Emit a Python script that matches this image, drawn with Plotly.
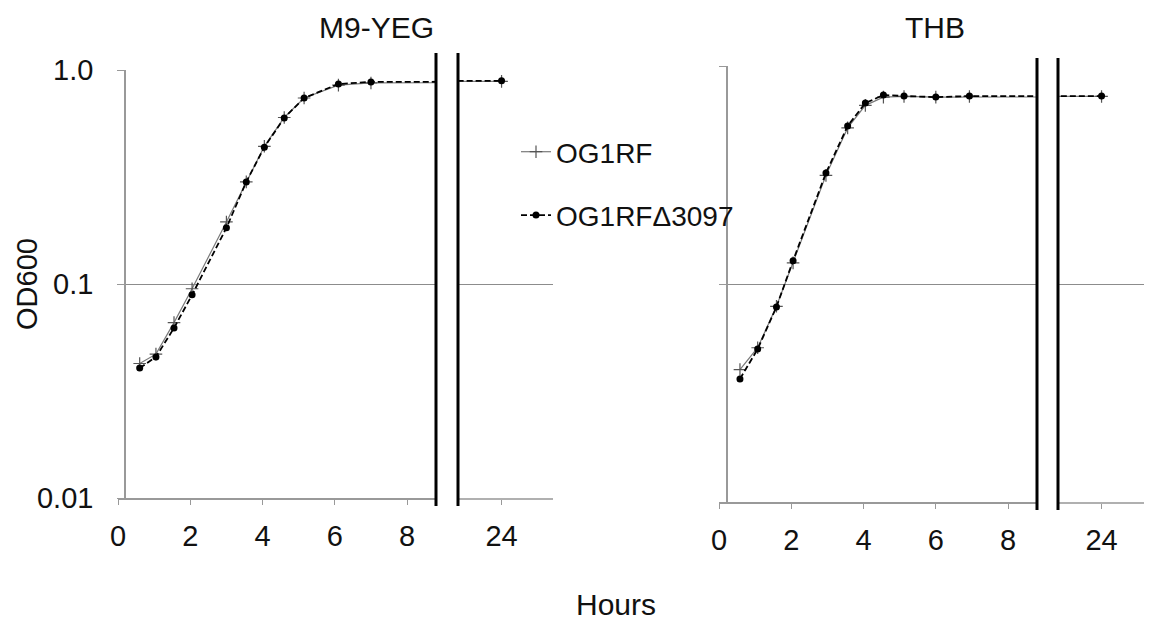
import plotly.graph_objects as go

# ---------------- data ----------------
m9_hours = [0.6, 1.05, 1.55, 2.05, 3.0, 3.55, 4.05, 4.6, 5.15, 6.1, 7.0, 24]
m9_wt = [0.0425, 0.047, 0.066, 0.095, 0.195, 0.30, 0.44, 0.60, 0.74, 0.85, 0.87, 0.885]
m9_mut = [0.0405, 0.0456, 0.0623, 0.089, 0.183, 0.30, 0.436, 0.597, 0.74, 0.86, 0.88, 0.89]

thb_hours = [0.58, 1.07, 1.59, 2.05, 2.96, 3.56, 4.05, 4.55, 5.12, 6.0, 6.93, 24]
thb_wt = [0.0405, 0.051, 0.079, 0.125, 0.315, 0.52, 0.66, 0.72, 0.725, 0.72, 0.725, 0.725]
thb_mut = [0.0367, 0.0503, 0.0785, 0.128, 0.323, 0.531, 0.676, 0.736, 0.728, 0.72, 0.728, 0.728]

series_names = ["OG1RF", "OG1RF\u03943097"]
panel_titles = ["M9-YEG", "THB"]
y_tickvals = [0.01, 0.1, 1.0]
y_ticktext = ["0.01", "0.1", "1.0"]
x_tickvals = [0, 2, 4, 6, 8]
x_break_tickvals = [24]

# page body has an 8px margin, so the figure is sized to the visible area
OFF = 8
W, H = 1152 - OFF, 626 - OFF
FONT = "Liberation Sans, Arial, sans-serif"
GRID = "#8c8c8c"
AXIS = "#999999"

def px(x):
    return (x - OFF) / W

def py(y):
    return 1 - (y - OFF) / H

fig = go.Figure()

panels = [
    dict(h=m9_hours, wt=m9_wt, mut=m9_mut, main=(118, 436), brk=(458, 553),
         yd=(70, 498), yax=125, labels=True),
    dict(h=thb_hours, wt=thb_wt, mut=thb_mut, main=(719, 1037), brk=(1058, 1152),
         yd=(66, 502), yax=727, labels=False),
]

layout = {}
for i, p in enumerate(panels):
    xm = 2 * i + 1
    xb = 2 * i + 2
    ym = 2 * i + 1
    yb = 2 * i + 2
    xm_name = "xaxis" if xm == 1 else f"xaxis{xm}"
    ym_name = "yaxis" if ym == 1 else f"yaxis{ym}"
    xb_name = f"xaxis{xb}"
    yb_name = f"yaxis{yb}"
    xm_ref = "x" if xm == 1 else f"x{xm}"
    ym_ref = "y" if ym == 1 else f"y{ym}"
    xb_ref = f"x{xb}"
    yb_ref = f"y{yb}"
    ydom = [py(p["yd"][1]), py(p["yd"][0])]

    for xr, yr, show in [(xm_ref, ym_ref, i == 0), (xb_ref, yb_ref, False)]:
        fig.add_trace(go.Scatter(
            x=p["h"], y=p["wt"], xaxis=xr, yaxis=yr, mode="lines+markers",
            name=series_names[0], legendgroup="a", showlegend=show,
            line=dict(color="#7a7a7a", width=1.2),
            marker=dict(symbol="cross-thin", size=9, color="#555555",
                        line=dict(color="#555555", width=1.2)),
        ))
        fig.add_trace(go.Scatter(
            x=p["h"], y=p["mut"], xaxis=xr, yaxis=yr, mode="lines+markers",
            name=series_names[1], legendgroup="b", showlegend=show,
            line=dict(color="black", width=1.8, dash="6px,3px"),
            marker=dict(symbol="circle", size=7, color="black"),
        ))

    tickfont = dict(family=FONT, size=29, color="#111111")
    layout[xm_name] = dict(
        domain=[px(p["main"][0]), px(p["main"][1])], range=[0, 8.8],
        anchor=ym_ref, tickvals=x_tickvals, ticks="outside", ticklen=5,
        tickcolor=AXIS, showline=True, linecolor=AXIS, linewidth=1.5,
        showgrid=False, zeroline=False, tickfont=tickfont, ticklabelstandoff=6,
        automargin=False,
    )
    layout[xb_name] = dict(
        domain=[px(p["brk"][0]), min(1.0, px(p["brk"][1]))],
        range=[22.8, 22.8 + (p["brk"][1] - p["brk"][0]) / 36.3],
        anchor=yb_ref, tickvals=x_break_tickvals, ticks="outside", ticklen=5,
        tickcolor=AXIS, showline=True, linecolor="#b0b0b0", linewidth=1.5,
        showgrid=False, zeroline=False, tickfont=tickfont, ticklabelstandoff=6,
        automargin=False,
    )
    layout[ym_name] = dict(
        domain=ydom, type="log", range=[-2, 0], anchor="free",
        position=px(p["yax"]),
        tickvals=y_tickvals, ticktext=y_ticktext,
        showticklabels=p["labels"], ticks="outside", ticklen=7, tickcolor=AXIS,
        showline=True, linecolor=AXIS, linewidth=1.5,
        showgrid=True, gridcolor=GRID, gridwidth=1, zeroline=False,
        tickfont=tickfont, ticklabelstandoff=18, automargin=False,
    )
    layout[yb_name] = dict(
        domain=ydom, type="log", range=[-2, 0], anchor=xb_ref,
        tickvals=y_tickvals, showticklabels=False, ticks="",
        showline=False, showgrid=True, gridcolor=GRID, gridwidth=1,
        zeroline=False, automargin=False,
    )

shapes = []
for xp, (y0, y1) in [(436, (53, 506)), (458, (53, 506)),
                     (1037, (58, 510)), (1058, (58, 510))]:
    shapes.append(dict(type="line", xref="paper", yref="paper",
                       x0=px(xp), x1=px(xp), y0=py(y1), y1=py(y0),
                       line=dict(color="black", width=3)))

def label(text, x, y, angle=0, size=30):
    return dict(text=text, x=px(x), y=py(y), xref="paper", yref="paper",
                xanchor="center", yanchor="middle", showarrow=False,
                textangle=angle, font=dict(family=FONT, size=size, color="#111111"))

annotations = [
    label(panel_titles[0], 376, 27),
    label(panel_titles[1], 935, 27),
    label("OD600", 27, 284, -90, 29),
    label("Hours", 616, 604),
]

fig.update_layout(
    width=W, height=H, margin=dict(l=0, r=0, t=0, b=0, pad=0, autoexpand=False),
    paper_bgcolor="white", plot_bgcolor="white",
    showlegend=True,
    legend=dict(x=px(516), y=py(127), xanchor="left", yanchor="top",
                font=dict(family=FONT, size=28, color="#111111"),
                tracegroupgap=24, bgcolor="rgba(0,0,0,0)", itemwidth=30),
    shapes=shapes, annotations=annotations,
    **layout,
)

fig.write_html("out.html")
